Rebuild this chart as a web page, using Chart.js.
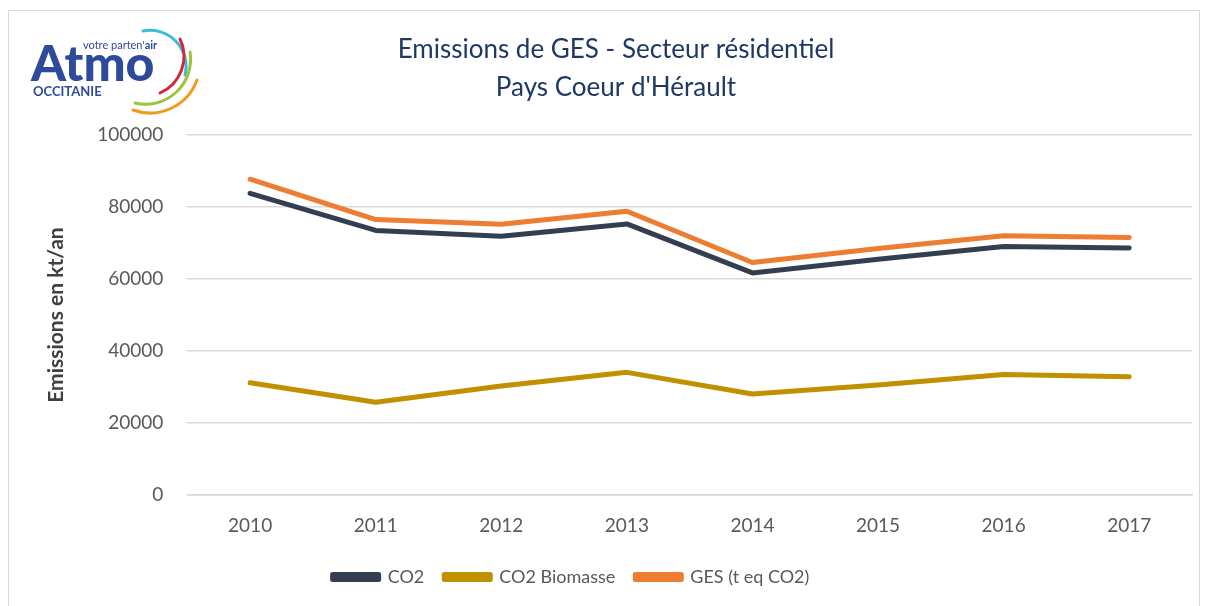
<!DOCTYPE html>
<html>
<head>
<meta charset="utf-8">
<script src="https://cdn.jsdelivr.net/npm/chart.js@4.4.1/dist/chart.umd.min.js"></script>
<style>
  body { margin: 0; background: #fff; }
  #wrap { position: relative; width: 1206px; height: 606px; overflow: hidden; }
  #frame { position: absolute; left: 8px; top: 10px; width: 1190px; height: 610px; border: 1px solid #d9d9d9; }
  #logo { position: absolute; left: 0; top: 0; }
  canvas { position: absolute; left: 0; top: 0; }
</style>
</head>
<body>
<div id="wrap">
  <div id="frame"></div>
  <canvas id="chart" width="1206" height="606"></canvas>
  <svg id="logo" width="220" height="120">
    <text x="83" y="49" font-family="Lato" font-size="11" fill="#2e4a9b">votre parten'<tspan font-weight="bold" fill="#2e4a9b">air</tspan></text>
    <text x="31" y="81" font-family="Lato" font-weight="900" font-size="50" fill="#2e4a9b">Atmo</text>
    <text x="33" y="96" font-family="Lato" font-weight="bold" font-size="13" fill="#2e4a9b">OCCITANIE</text>
    <path d="M143 31 A36 36 0 0 1 185 75" stroke="#3bbbd8" stroke-width="3" fill="none" stroke-linecap="round"/>
    <path d="M180 39 A40 40 0 0 1 160 93" stroke="#d1273f" stroke-width="3" fill="none" stroke-linecap="round"/>
    <path d="M190 52 A45 45 0 0 1 135 103" stroke="#9cc43c" stroke-width="3" fill="none" stroke-linecap="round"/>
    <path d="M197 80 A50 50 0 0 1 133 110" stroke="#f29a20" stroke-width="3" fill="none" stroke-linecap="round"/>
  </svg>
</div>
<script>
const years = ["2010", "2011", "2012", "2013", "2014", "2015", "2016", "2017"];
const co2 = [83800, 73500, 71900, 75300, 61700, 65500, 69000, 68600];
const co2Biomasse = [31200, 25800, 30300, 34100, 28100, 30600, 33500, 32900];
const ges = [87700, 76500, 75200, 78800, 64600, 68500, 72000, 71500];
const yTicks = [0, 20000, 40000, 60000, 80000, 100000];

function serie(label, data, color) {
  return {
    label: label,
    data: data,
    borderColor: color,
    backgroundColor: color,
    borderWidth: 5,
    borderCapStyle: "round",
    borderJoinStyle: "round",
    pointRadius: 0,
    tension: 0
  };
}

// the legend sits a bit left of the centre in the original
const shiftLegend = {
  id: "shiftLegend",
  afterLayout(chart) {
    chart.legend.left -= 45;
    chart.legend.right -= 45;
  }
};

const ctx = document.getElementById("chart").getContext("2d");
const chart = new Chart(ctx, {
  type: "line",
  data: {
    labels: years,
    datasets: [
      serie("CO2", co2, "#333f50"),
      serie("CO2 Biomasse", co2Biomasse, "#bf9000"),
      serie("GES (t eq CO2)", ges, "#ed7d31")
    ]
  },
  options: {
    responsive: false,
    animation: false,
    layout: { padding: { left: 40, right: 14, top: 31, bottom: 10 } },
    scales: {
      x: {
        offset: true,
        grid: { display: false },
        border: { display: true, color: "#d9d9d9", width: 1.5 },
        ticks: { color: "#595959", font: { family: "Lato", size: 19 }, padding: 11 }
      },
      y: {
        min: 0,
        max: 100000,
        afterBuildTicks: function (axis) {
          axis.ticks = yTicks.map(v => ({ value: v }));
        },
        grid: { color: "#d9d9d9", lineWidth: 1.5, drawTicks: false },
        border: { display: false },
        ticks: {
          color: "#595959",
          font: { family: "Lato", size: 19 },
          padding: 24,
          callback: v => String(v)
        },
        title: {
          display: true,
          text: "Emissions en kt/an",
          color: "#404040",
          font: { family: "Lato", size: 21, weight: "bold" },
          padding: { bottom: 4 }
        }
      }
    },
    plugins: {
      title: {
        display: true,
        text: ["Emissions de GES - Secteur résidentiel", "Pays Coeur d'Hérault"],
        color: "#1f3864",
        font: { family: "Lato", size: 26, weight: "normal", lineHeight: 1.46 },
        padding: { top: 0, bottom: 28 }
      },
      legend: {
        position: "bottom",
        labels: {
          color: "#595959",
          font: { family: "Lato", size: 18 },
          boxWidth: 46,
          boxHeight: 5,
          padding: 20
        }
      },
      tooltip: { enabled: false }
    }
  },
  plugins: [shiftLegend]
});
</script>
</body>
</html>
